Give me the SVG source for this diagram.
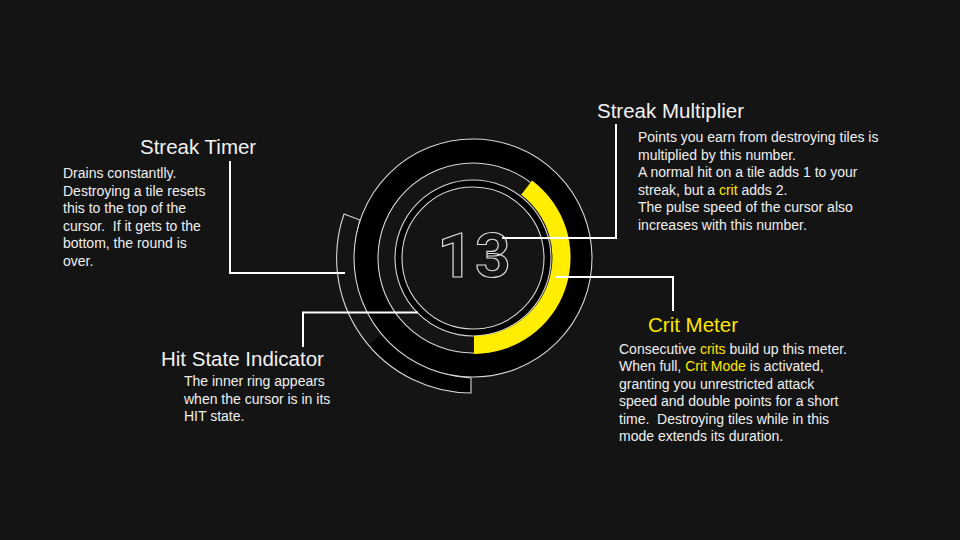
<svg xmlns="http://www.w3.org/2000/svg" width="960" height="540" viewBox="0 0 960 540">
<style>
  .title { font-family: "Liberation Sans", Arial, sans-serif; font-size: 20.5px; fill: #f2f2f2; }
  .body { font-family: "Liberation Sans", Arial, sans-serif; font-size: 14px; fill: #f0f0f0; white-space: pre; }
  .hl { fill: #ffe600; }
  .thin { fill: none; stroke: #d6d6d6; stroke-width: 1.1; }
  .conn { fill: none; stroke: #ffffff; stroke-width: 2; }
</style>
<rect width="960" height="540" fill="#141414"/>

<g id="cursor">
  <!-- streak timer band -->
  <path d="M471,393 A135,135 0 0 1 369.1,344.8 L380.2,335.5 A122,122 0 0 0 471,378 Z" fill="#000"/>
  <path class="thin" d="M471,393 A135,135 0 0 1 344,214 L360,220 A124,124 0 0 0 471,378 Z"/>
  <!-- main black ring -->
  <circle cx="473" cy="258" r="107" fill="none" stroke="#000" stroke-width="24"/>
  <circle class="thin" cx="473" cy="258" r="119"/>
  <circle class="thin" cx="473" cy="258" r="95"/>
  <!-- inner hit ring -->
  <circle cx="473" cy="258" r="74.5" fill="none" stroke="#000" stroke-width="7"/>
  <circle class="thin" cx="473" cy="258" r="78"/>
  <circle class="thin" cx="473" cy="258" r="71"/>
  <!-- crit meter fill -->
  <path d="M532.1,180.4 A96.5,96.5 0 0 1 474,354 L474,336 A78.5,78.5 0 0 0 521.2,194.8 Z" fill="#ffee00"/>
  <!-- number -->
  <text x="475" y="277" text-anchor="middle" font-family="Roboto, 'DejaVu Sans', sans-serif" font-weight="700" font-size="62" letter-spacing="2" fill="none" stroke="#dcdcdc" stroke-width="1.2">13</text>
</g>

<g id="connectors">
  <polyline class="conn" points="230,161 230,273 345,273"/>
  <polyline class="conn" points="303,347 303,312.5 418,312.5"/>
  <polyline class="conn" points="502,238 616,238 616,124"/>
  <polyline class="conn" points="556,277 673,277 673,311"/>
</g>

<g id="streak-timer">
  <text class="title" x="140" y="154">Streak Timer</text>
  <text class="body" x="63" y="178">Drains constantlly.</text>
  <text class="body" x="63" y="195.5">Destroying a tile resets</text>
  <text class="body" x="63" y="213">this to the top of the</text>
  <text class="body" x="63" y="230.5">cursor.  If it gets to the</text>
  <text class="body" x="63" y="248">bottom, the round is</text>
  <text class="body" x="63" y="265.5">over.</text>
</g>

<g id="streak-multiplier">
  <text class="title" x="597" y="118">Streak Multiplier</text>
  <text class="body" x="638" y="142">Points you earn from destroying tiles is</text>
  <text class="body" x="638" y="159.5">multiplied by this number.</text>
  <text class="body" x="638" y="177">A normal hit on a tile adds 1 to your</text>
  <text class="body" x="638" y="194.5">streak, but a <tspan class="hl">crit</tspan> adds 2.</text>
  <text class="body" x="638" y="212">The pulse speed of the cursor also</text>
  <text class="body" x="638" y="229.5">increases with this number.</text>
</g>

<g id="crit-meter">
  <text class="title hl" x="648" y="332">Crit Meter</text>
  <text class="body" x="619" y="353.5">Consecutive <tspan class="hl">crits</tspan> build up this meter.</text>
  <text class="body" x="619" y="371">When full, <tspan class="hl">Crit Mode</tspan> is activated,</text>
  <text class="body" x="619" y="388.5">granting you unrestricted attack</text>
  <text class="body" x="619" y="406">speed and double points for a short</text>
  <text class="body" x="619" y="423.5">time.  Destroying tiles while in this</text>
  <text class="body" x="619" y="441">mode extends its duration.</text>
</g>

<g id="hit-state-indicator">
  <text class="title" x="161" y="366">Hit State Indicator</text>
  <text class="body" x="184" y="386">The inner ring appears</text>
  <text class="body" x="184" y="403.5">when the cursor is in its</text>
  <text class="body" x="184" y="421">HIT state.</text>
</g>
</svg>
